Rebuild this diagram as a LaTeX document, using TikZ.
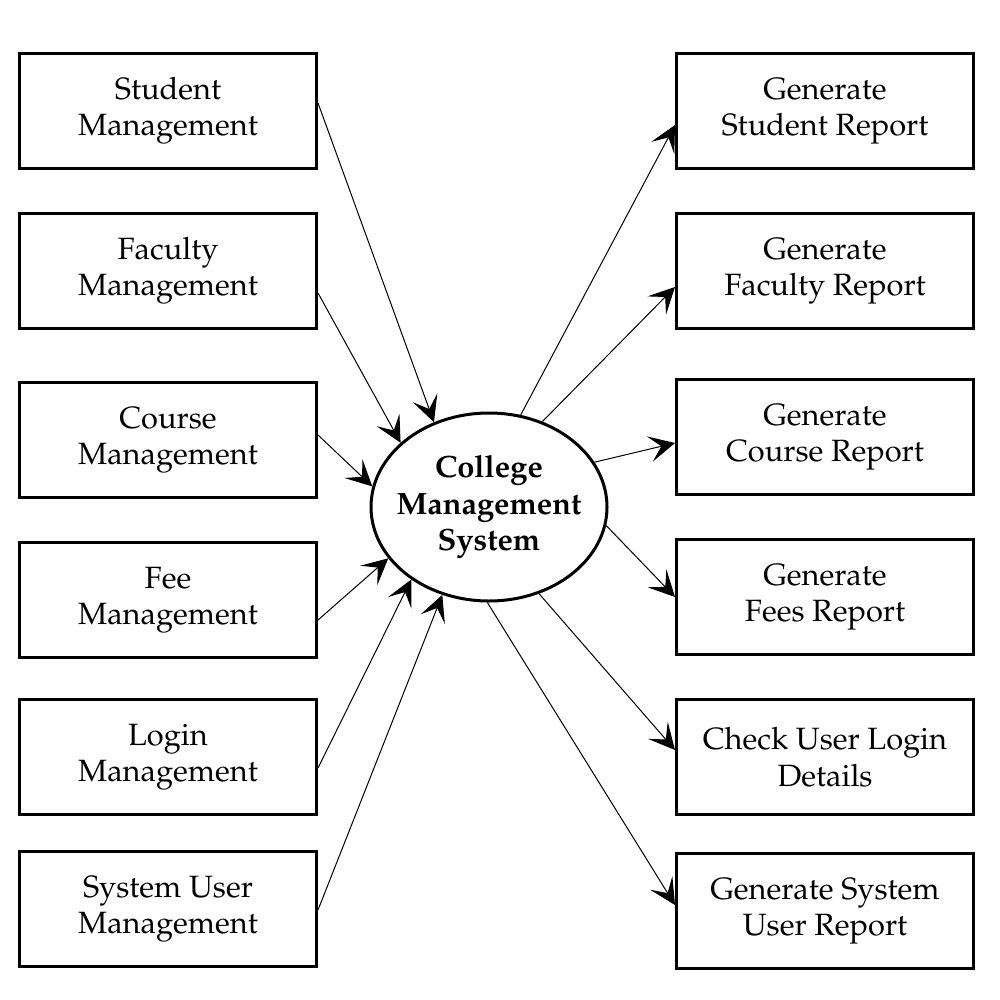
\documentclass[tikz,border=0pt]{standalone}
\usepackage[T1]{fontenc}
\usepackage{mathpazo}
\usepackage{tikz}
\usetikzlibrary{arrows.meta,shapes.geometric}

\begin{document}
\begin{tikzpicture}[x=0.5pt, y=-0.5pt,
      box/.style={rectangle, draw, line width=1.5pt, minimum width=148.5pt,
                  minimum height=57.5pt, align=center,
                  font=\fontsize{15.4}{18.2}\selectfont},
      hub/.style={ellipse, draw, line width=1.5pt, minimum width=118pt,
                  minimum height=94pt, align=center, inner xsep=-6pt,
                  inner ysep=0pt,
                  font=\fontsize{15.4}{18.2}\selectfont\bfseries},
      flow/.style={-{Stealth[length=13pt, width=13pt, inset=6pt]},
                  line width=0.5pt}]
    \useasboundingbox (0,0) rectangle (1000,1000);
    % centre
    \node[hub] (cms) at (489,507) {College\\Management\\System};
    % left column
    \node[box] (sm) at (168,111) {Student\\Management};
    \node[box] (fm) at (168,271) {Faculty\\Management};
    \node[box] (cm) at (168,440) {Course\\Management};
    \node[box] (em) at (168,600) {Fee\\Management};
    \node[box] (lm) at (168,757) {Login\\Management};
    \node[box] (um) at (168,909) {System User\\Management};
    % right column
    \node[box] (sr) at (825,111) {Generate\\Student Report};
    \node[box] (fr) at (825,271) {Generate\\Faculty Report};
    \node[box] (cr) at (825,437) {Generate\\Course Report};
    \node[box] (er) at (825,597) {Generate\\Fees Report};
    \node[box] (ld) at (825,757) {Check User Login\\Details};
    \node[box] (ur) at (825,911) {Generate System\\User Report};
    % inputs
    \draw[flow] ([yshift=4pt]sm.east) -- (cms.123);
    \draw[flow] ([yshift=-11pt]fm.east) -- (cms.144);
    \draw[flow] ([yshift=2.5pt]cm.east) -- (cms.170);
    \draw[flow] ([yshift=-10pt]em.east) -- (cms.207);
    \draw[flow] ([yshift=-5.5pt]lm.east) -- (cms.223);
    \draw[flow] ([yshift=-0.5pt]um.east) -- (cms.242);
    % outputs
    \draw[flow] (cms.71) -- ([yshift=-7pt]sr.west);
    \draw[flow] (cms.58) -- ([yshift=-8pt]fr.west);
    \draw[flow] (cms.23) -- ([yshift=-3pt]cr.west);
    \draw[flow] (cms.-9) -- (er.west);
    \draw[flow] (cms.-60) -- ([yshift=3.5pt]ld.west);
    \draw[flow] (cms.-91) -- ([yshift=3pt]ur.west);
\end{tikzpicture}
\end{document}
